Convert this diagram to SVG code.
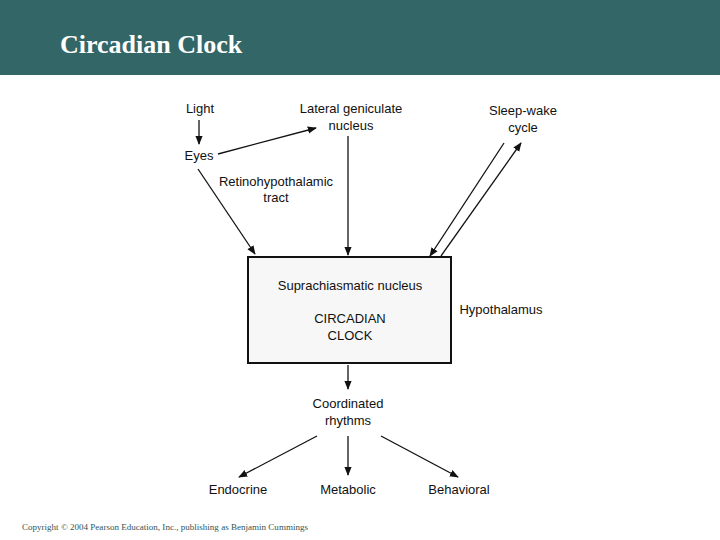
<svg xmlns="http://www.w3.org/2000/svg" width="720" height="540" viewBox="0 0 720 540">
<style>
.t{font-family:"Liberation Sans",Arial,sans-serif;font-size:13px;fill:#111;text-anchor:middle}
.c line{stroke:#111;stroke-width:1.3;marker-end:url(#a)}
</style>
<defs><marker id="a" viewBox="0 0 10 10" refX="9" refY="5" markerWidth="7" markerHeight="7" orient="auto"><path d="M0,1 L10,5 L0,9 z" fill="#111"/></marker></defs>
<rect width="720" height="540" fill="#fff"/>
<rect width="720" height="75" fill="#336666"/>
<text x="60" y="53" font-family="Liberation Serif,serif" font-size="26" font-weight="bold" fill="#fff">Circadian Clock</text>
<g id="light"><text class="t" x="200" y="113">Light</text></g>
<g id="eyes"><text class="t" x="199" y="160">Eyes</text></g>
<g id="lgn"><text class="t" x="351" y="113">Lateral geniculate</text><text class="t" x="351" y="130">nucleus</text></g>
<g id="sleep"><text class="t" x="523" y="115">Sleep-wake</text><text class="t" x="523" y="132">cycle</text></g>
<g id="rht"><text class="t" x="276" y="186">Retinohypothalamic</text><text class="t" x="276" y="202">tract</text></g>
<g id="scn"><rect x="248" y="257" width="203" height="106" fill="#f7f7f7" stroke="#111" stroke-width="2"/>
<text class="t" x="350" y="290">Suprachiasmatic nucleus</text>
<text class="t" x="350" y="323">CIRCADIAN</text><text class="t" x="350" y="340">CLOCK</text></g>
<g id="hyp"><text class="t" x="501" y="314">Hypothalamus</text></g>
<g id="coord"><text class="t" x="348" y="408">Coordinated</text><text class="t" x="348" y="425">rhythms</text></g>
<g id="endo"><text class="t" x="238" y="494">Endocrine</text></g>
<g id="meta"><text class="t" x="348" y="494">Metabolic</text></g>
<g id="beh"><text class="t" x="459" y="494">Behavioral</text></g>
<g class="c">
<line x1="199" y1="120" x2="199" y2="144"/>
<line x1="218" y1="154" x2="316" y2="128"/>
<line x1="348" y1="136" x2="348" y2="255"/>
<line x1="198" y1="169" x2="255" y2="254"/>
<line x1="504" y1="143" x2="430" y2="256"/>
<line x1="441" y1="256" x2="521" y2="143"/>
<line x1="348" y1="365" x2="348" y2="389"/>
<line x1="317" y1="436" x2="239" y2="477"/>
<line x1="348" y1="436" x2="348" y2="475" stroke-width="2.5"/>
<line x1="381" y1="436" x2="458" y2="477"/>
</g>
<text x="22" y="530" font-family="Liberation Serif,serif" font-size="9" fill="#335555" textLength="286">Copyright © 2004 Pearson Education, Inc., publishing as Benjamin Cummings</text>
</svg>
